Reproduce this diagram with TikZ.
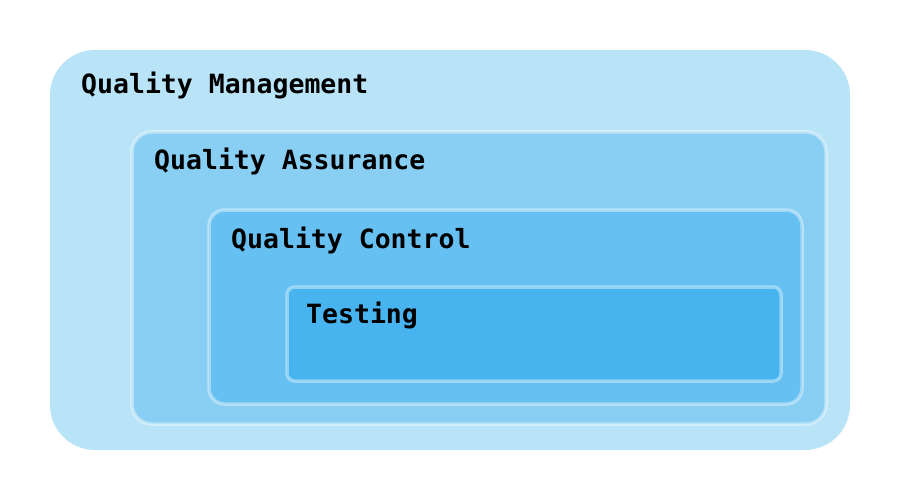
\documentclass[tikz,border=0pt]{standalone}
\usepackage{fontspec}
\setmonofont{DejaVu Sans Mono}
\definecolor{qmblue}{HTML}{B9E4F8}
\definecolor{qablue}{HTML}{89CFF3}
\definecolor{qcblue}{HTML}{66C0F1}
\definecolor{tsblue}{HTML}{47B4EF}
\tikzset{
  layer/.style={rounded corners=#1, draw=white, draw opacity=0.4, line width=3.5pt},
  tag/.style={anchor=base west, inner sep=0pt, font=\ttfamily\bfseries\fontsize{26.5}{30}\selectfont}
}
\begin{document}
\begin{tikzpicture}[x=1pt,y=-1pt]
        \useasboundingbox (0,0) rectangle (900,500);
        \fill[qmblue, rounded corners=45pt] (50,50) rectangle (850,450);
        \node[tag] (qm) at (81,94) {Quality Management};
        \filldraw[layer=20pt, fill=qablue] (132,132) rectangle (826,424);
        \node[tag] (qa) at (154,170) {Quality Assurance};
        \filldraw[layer=16pt, fill=qcblue] (209,210) rectangle (802,404);
        \node[tag] (qc) at (231,248) {Quality Control};
        \filldraw[layer=8pt, fill=tsblue] (287,287) rectangle (781,381);
        \node[tag] (ts) at (306,323) {Testing};
    \end{tikzpicture}
\end{document}
